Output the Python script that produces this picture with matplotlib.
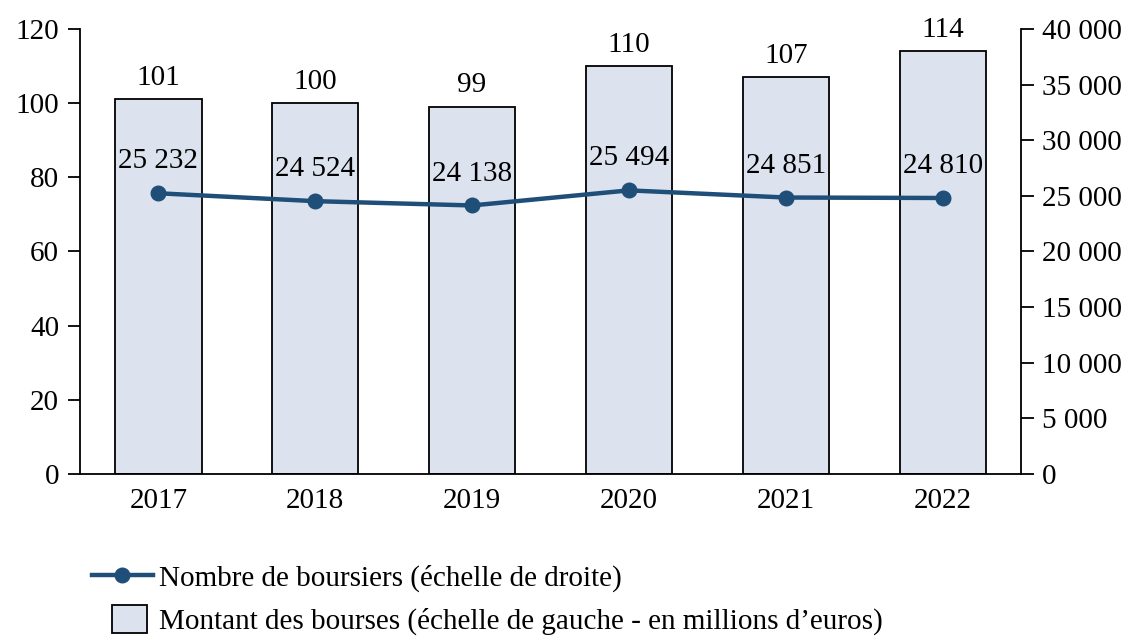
import matplotlib
matplotlib.use("Agg")
import matplotlib.pyplot as plt
from matplotlib.lines import Line2D
from matplotlib.patches import Patch, Rectangle
from matplotlib.legend_handler import HandlerPatch

years = ["2017", "2018", "2019", "2020", "2021", "2022"]
montant = [101, 100, 99, 110, 107, 114]
boursiers = [25232, 24524, 24138, 25494, 24851, 24810]

bar_color = "#DCE3EE"
line_color = "#1F4E79"

plt.rcParams["font.family"] = ["Liberation Serif", "DejaVu Serif"]
plt.rcParams["font.size"] = 21


def fmt_space(v):
    return f"{int(v):,}".replace(",", " ")


class SquareHandler(HandlerPatch):
    # narrower box than the line handle, like the original legend
    def create_artists(self, legend, orig_handle, xdescent, ydescent,
                       width, height, fontsize, trans):
        w = height * 1.75
        h = height * 1.35
        x0 = width - w - 4
        y0 = (height - h) / 2 - ydescent
        p = Rectangle((x0, y0), w, h, facecolor=orig_handle.get_facecolor(),
                      edgecolor="black", linewidth=1.3, transform=trans)
        return [p]


fig = plt.figure(figsize=(11.27, 6.41), dpi=100)
ax = fig.add_axes([0.071, 0.2605, 0.835, 0.6943])
x = list(range(len(years)))

ax.bar(x, montant, width=0.55, color=bar_color, edgecolor="black", linewidth=1.3, zorder=2)
ax.set_xlim(-0.5, 5.5)
ax.set_ylim(0, 120)
ax.set_yticks(range(0, 121, 20))
ax.set_xticks(x)
ax.set_xticklabels(years)
ax.tick_params(axis="x", length=0, pad=10)
ax.tick_params(axis="y", length=9, width=1.3, direction="out", pad=6)
ax.spines["top"].set_visible(False)
ax.spines["right"].set_visible(False)
ax.spines["left"].set_linewidth(1.3)
ax.spines["bottom"].set_linewidth(1.3)

for xi, v in zip(x, montant):
    ax.text(xi, v + 2.3, str(v), ha="center", va="bottom")

ax2 = ax.twinx()
ax2.plot(x, boursiers, color=line_color, linewidth=3.2, marker="o", markersize=10.5, zorder=3)
ax2.set_ylim(0, 40000)
ax2.set_yticks(range(0, 40001, 5000))
ax2.set_yticklabels([fmt_space(v) for v in range(0, 40001, 5000)])
ax2.tick_params(axis="y", length=9, width=1.3, direction="out", pad=6)
ax2.spines["top"].set_visible(False)
ax2.spines["left"].set_visible(False)
ax2.spines["bottom"].set_visible(False)
ax2.spines["right"].set_linewidth(1.3)

for xi, v in zip(x, boursiers):
    ax2.text(xi, v + 1700, fmt_space(v), ha="center", va="bottom")

handles = [
    Line2D([0], [0], color=line_color, linewidth=3.2, marker="o", markersize=10.5),
    Patch(facecolor=bar_color, edgecolor="black", linewidth=1.3),
]
labels = [
    "Nombre de boursiers (échelle de droite)",
    "Montant des bourses (échelle de gauche - en millions d\u2019euros)",
]
fig.legend(handles, labels, loc="lower left", bbox_to_anchor=(0.058, -0.032),
           frameon=False, handlelength=2.1, handletextpad=0.2, labelspacing=0.55,
           handler_map={Patch: SquareHandler()})

fig.savefig("out.png", dpi=100)
